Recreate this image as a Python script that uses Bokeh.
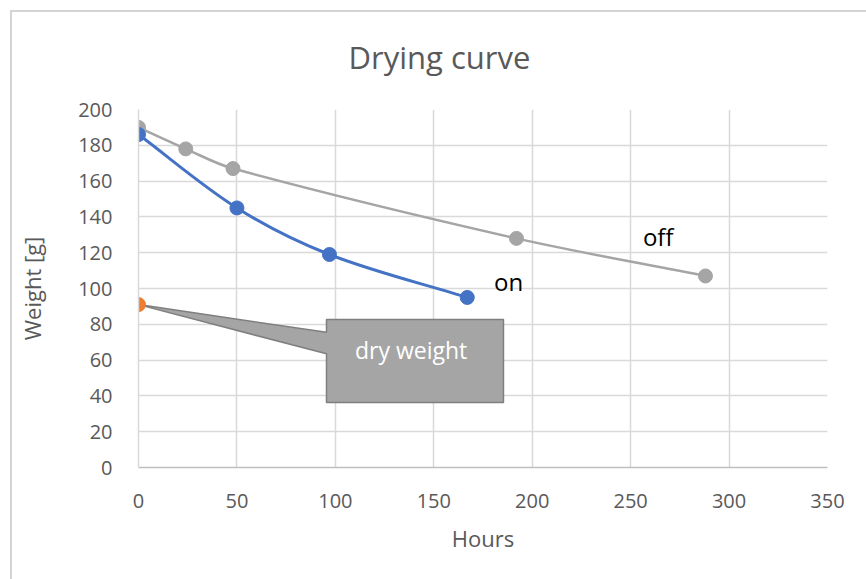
import math
from bokeh.plotting import figure
from bokeh.models import FixedTicker, Range1d
from bokeh.core.properties import value
from bokeh.embed import file_html
from bokeh.resources import INLINE

# ---- data ----
on_hours = [0, 50, 97, 167]
on_weight = [186, 145, 119, 95]
off_hours = [0, 24, 48, 192, 288]
off_weight = [190, 178, 167, 128, 107]
dry_hours = [0]
dry_weight = [91]
x_ticks = [0, 50, 100, 150, 200, 250, 300, 350]
y_ticks = [0, 20, 40, 60, 80, 100, 120, 140, 160, 180, 200]

BLUE = "#4472c4"
GRAY = "#a5a5a5"
ORANGE = "#ed7d31"
TXT = "#595959"
GRID = "#d9d9d9"
FONT = "Open Sans"
FRAME = "#d4d4d4"

p = figure(width=866, height=579, output_backend="svg", toolbar_location=None,
           x_range=Range1d(0, 350), y_range=Range1d(0, 200),
           min_border_left=138, min_border_right=39, min_border_top=109, min_border_bottom=112)
# outer chart-area border drawn behind a transparent canvas border
p.styles = {
    "background-color": "white",
    "background-image": f"linear-gradient({FRAME}, {FRAME}), linear-gradient({FRAME}, {FRAME})",
    "background-size": "2px 100%, 100% 2px",
    "background-position": "10px 10px, 10px 10px",
    "background-repeat": "no-repeat",
}
p.outline_line_color = None
p.background_fill_color = "white"
p.border_fill_alpha = 0

p.title.text = "Drying curve"
p.title.text_font = FONT
p.title.text_font_size = "31px"
p.title.text_font_style = "normal"
p.title.text_color = TXT
p.title.align = "left"
p.title.vertical_align = "middle"
p.title.offset = 210
p.title.standoff = 62

for ax in (p.xaxis[0], p.yaxis[0]):
    ax.major_tick_line_color = None
    ax.minor_tick_line_color = None
    ax.major_label_text_font = FONT
    ax.major_label_text_font_size = "20px"
    ax.major_label_text_color = TXT
    ax.axis_label_text_font = FONT
    ax.axis_label_text_font_size = "22px"
    ax.axis_label_text_font_style = "normal"
    ax.axis_label_text_color = TXT

p.xaxis.ticker = FixedTicker(ticks=x_ticks)
p.yaxis.ticker = FixedTicker(ticks=y_ticks)
p.xaxis.axis_label = "Hours"
p.yaxis.axis_label = "Weight [g]"
p.xaxis.axis_line_color = "#bfbfbf"
p.xaxis.axis_line_width = 1.5
p.yaxis.axis_line_color = GRID
p.yaxis.axis_line_width = 1.5
p.xaxis.major_label_standoff = 20
p.yaxis.major_label_standoff = 20
p.xaxis.axis_label_standoff = 12
p.yaxis.axis_label_standoff = 28

p.xgrid.grid_line_color = GRID
p.ygrid.grid_line_color = GRID
p.xgrid.grid_line_width = 1.5
p.ygrid.grid_line_width = 1.5

SX, SY = 1.9686, 1.79  # approx px per data unit, for tangent lengths


def smooth(xs, ys):
    """Smoothed segments (cubic Bezier with tangents scaled to segment length)."""
    n = len(xs)
    px = [x * SX for x in xs]
    py = [y * SY for y in ys]
    tang = []
    for i in range(n):
        a = max(i - 1, 0)
        b = min(i + 1, n - 1)
        dx, dy = px[b] - px[a], py[b] - py[a]
        d = math.hypot(dx, dy) or 1.0
        tang.append((dx / d, dy / d))
    out = dict(x0=[], y0=[], x1=[], y1=[], cx0=[], cy0=[], cx1=[], cy1=[])
    for i in range(n - 1):
        L = math.hypot(px[i + 1] - px[i], py[i + 1] - py[i]) / 3
        out["x0"].append(xs[i]); out["y0"].append(ys[i])
        out["x1"].append(xs[i + 1]); out["y1"].append(ys[i + 1])
        out["cx0"].append((px[i] + tang[i][0] * L) / SX)
        out["cy0"].append((py[i] + tang[i][1] * L) / SY)
        out["cx1"].append((px[i + 1] - tang[i + 1][0] * L) / SX)
        out["cy1"].append((py[i + 1] - tang[i + 1][1] * L) / SY)
    return out


# callout geometry (annotation position)
cx_left, cx_right, cy_top, cy_bot = 95.5, 185.4, 82.7, 36.3
attach_hi, attach_lo = 75.5, 63.5
p.patch([cx_left, cx_right, cx_right, cx_left, cx_left, dry_hours[0], cx_left],
        [cy_top, cy_top, cy_bot, cy_bot, attach_lo, dry_weight[0], attach_hi],
        fill_color=GRAY, line_color="#7f7f7f", line_width=1.5)
p.text(x=[138.5], y=[65.5], text=["dry weight"], text_font=value(FONT),
       text_font_size="23px", text_color="white", text_align="center",
       text_baseline="middle")

p.bezier(**smooth(off_hours, off_weight), line_color=GRAY, line_width=2.5)
p.scatter(off_hours, off_weight, size=14, color=GRAY)
p.bezier(**smooth(on_hours, on_weight), line_color=BLUE, line_width=3)
p.scatter(on_hours, on_weight, size=14, color=BLUE)
p.scatter(dry_hours, dry_weight, size=14, color=ORANGE)

p.text(x=[188], y=[104], text=["on"], text_font=value(FONT), text_font_size="24px",
       text_color="black", text_align="center", text_baseline="middle")
p.text(x=[264], y=[129], text=["off"], text_font=value(FONT), text_font_size="24px",
       text_color="black", text_align="center", text_baseline="middle")

open("out.html", "w").write(file_html(p, INLINE))
